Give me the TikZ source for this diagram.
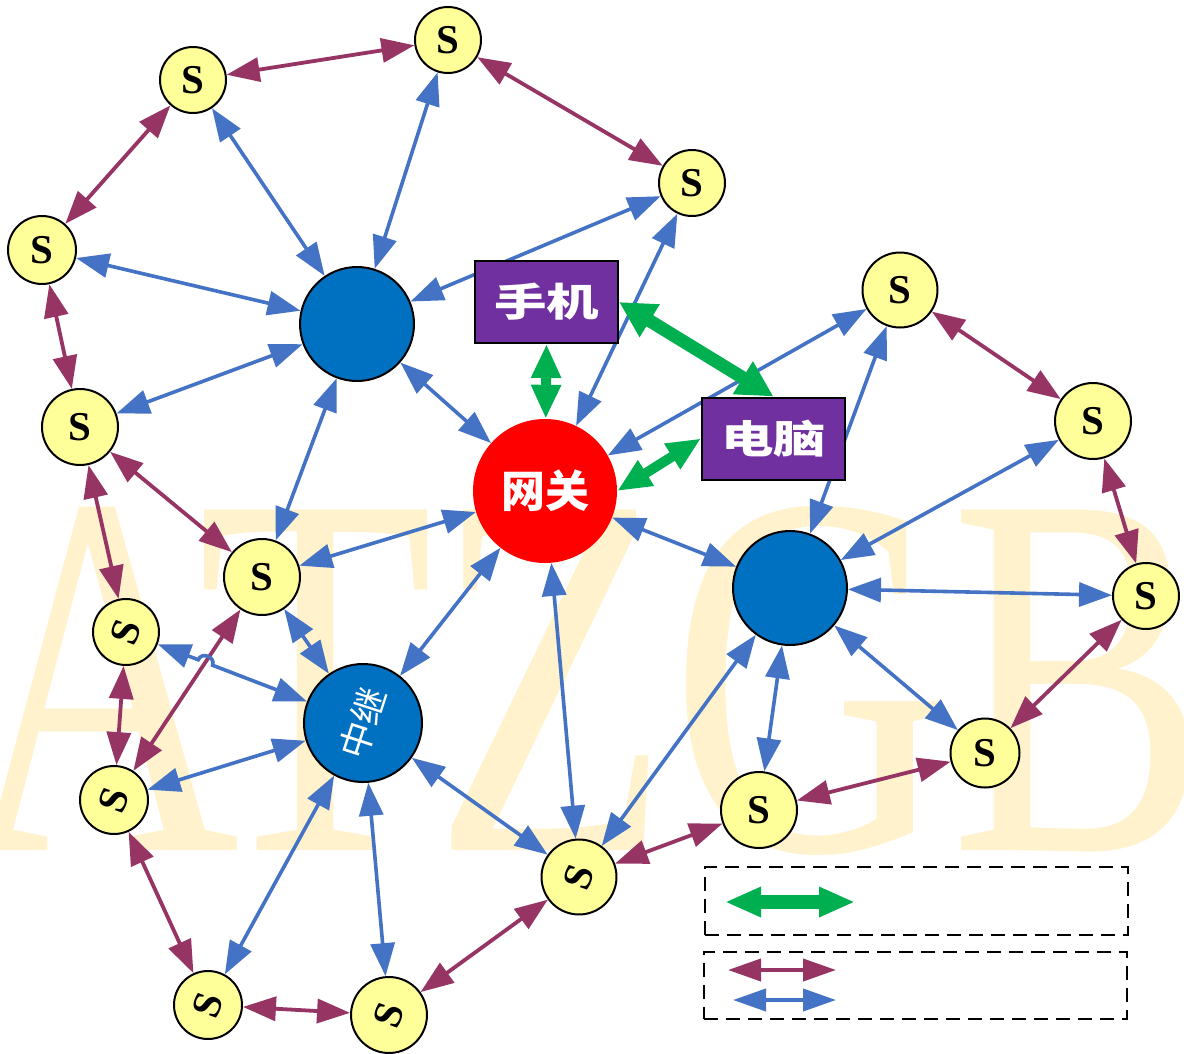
\documentclass[tikz,border=0pt]{standalone}
\usepackage{fontspec}
\usepackage{graphicx}
\setmainfont{Liberation Serif}
\newfontfamily\cjk{Noto Sans CJK SC}
\usetikzlibrary{arrows.meta,calc}
\definecolor{pur}{RGB}{150,52,100}
\definecolor{blu}{HTML}{4472C4}
\definecolor{grn}{HTML}{00B050}
\definecolor{sy}{HTML}{FFFF99}
\definecolor{nb}{HTML}{0070C0}
\definecolor{boxp}{HTML}{7030A0}
\definecolor{wmc}{HTML}{FFF2CC}
\pgfdeclarelayer{wm}
\pgfdeclarelayer{edges}
\pgfsetlayers{wm,edges,main}
\begin{document}
\begin{tikzpicture}[x=1pt,y=-1pt,
  snode/.style={circle,draw=black,line width=2pt,fill=sy,inner sep=0pt,minimum size=#1,font=\fontsize{41}{41}\selectfont\bfseries},
  snode/.default=66pt,
  bignode/.style={circle,draw=black,line width=2pt,fill=nb,inner sep=0pt,minimum size=#1},
  bignode/.default=114pt,
  dev/.style={draw=black,line width=2pt,fill=boxp,text=white,minimum width=143pt,minimum height=82pt,inner sep=0pt,font=\cjk\bfseries\fontsize{50}{50}\selectfont},
  pl/.style={draw=pur,line width=3.8pt,arrows={Triangle[length=33pt,width=24pt]-Triangle[length=33pt,width=24pt]}},
  bl/.style={draw=blu,line width=3.6pt,arrows={Triangle[length=33pt,width=24pt]-Triangle[length=33pt,width=24pt]}},
  gl/.style={draw=grn,line width=10pt,arrows={Triangle[length=34pt,width=28pt]-Triangle[length=34pt,width=28pt]}},
  gll/.style={draw=grn,line width=13pt,arrows={Triangle[length=36pt,width=36pt]-Triangle[length=36pt,width=36pt]}},
  legbox/.style={draw=black,line width=2pt,dash pattern=on 14pt off 8pt}
]
\useasboundingbox (0,0) rectangle (1184,1053);

% watermark
\begin{pgfonlayer}{wm}
\begin{scope}
\clip (0,0) rectangle (1184,1053);
\node[anchor=base west,inner sep=0pt,xscale=0.745,text=wmc,font=\fontsize{520}{520}\selectfont] (wmark) at (-40,850) {ATZGB};
\end{scope}
\end{pgfonlayer}

% S nodes
\node[snode] (S1) at (448,40) {S};
\node[snode] (S2) at (193,80) {S};
\node[snode] (S3) at (692,183) {S};
\node[snode=68pt] (S4) at (42,250) {S};
\node[snode=75pt] (S5) at (900,290) {S};
\node[snode=76pt] (S6) at (80,427) {S};
\node[snode=76pt] (S7) at (1093,421) {S};
\node[snode=76pt] (S8) at (262,577) {S};
\node[snode,rotate=70] (S9) at (126,632) {S};
\node[snode] (S10) at (1146,596) {S};
\node[snode=68pt,rotate=70] (S11) at (114,800) {S};
\node[snode=69pt] (S12) at (985,753) {S};
\node[snode=76pt] (S13) at (759,810) {S};
\node[snode=75pt,rotate=70] (S14) at (579,877) {S};
\node[snode=68pt,rotate=70] (S15) at (208,1005) {S};
\node[snode=76pt,rotate=70] (S16) at (389,1015) {S};

% hubs
\node[bignode] (B1) at (357,324) {};
\node[bignode] (B2) at (790,588) {};
\node[bignode=118pt,rotate=72,text=white,font=\cjk\fontsize{36}{36}\selectfont] (R) at (363,723) {中继};
\node[circle,fill=red,minimum size=144pt,inner sep=0pt,text=white,font=\cjk\bfseries\fontsize{44}{44}\selectfont] (G) at (545,491) {网关};

% devices
\node[dev] (P) at (546.5,302) {\scalebox{1.05}[0.78]{手机}};
\node[dev] (C) at (773.5,438.5) {\scalebox{1.05}[0.78]{电脑}};

% legend
\node[legbox,minimum width=423pt,minimum height=68pt,inner sep=0pt] (L1) at (916.5,901) {};
\node[legbox,minimum width=423pt,minimum height=67pt,inner sep=0pt] (L2) at (915.5,985.5) {};
\coordinate (g1) at (725,902);
\coordinate (g2) at (855,902);
\coordinate (p1) at (728,970);
\coordinate (p2) at (836,970);
\coordinate (b1) at (733,1000);
\coordinate (b2) at (836,1000);

\begin{pgfonlayer}{edges}
% purple links between sensors
\draw[pl] (S2) -- (S1);
\draw[pl] (S1) -- (S3);
\draw[pl] (S2) -- (S4);
\draw[pl] (S4) -- (S6);
\draw[pl] (S6) -- (S9);
\draw[pl] (S6) -- (S8);
\draw[pl] (S9) -- (S11);
\draw[pl] (S8) -- (S11);
\draw[pl] (S11) -- (S15);
\draw[pl] (S15) -- (S16);
\draw[pl] (S16) -- (S14);
\draw[pl] (S14) -- (S13);
\draw[pl] (S13) -- (S12);
\draw[pl] (S12) -- (S10);
\draw[pl] (S10) -- (S7);
\draw[pl] (S7) -- (S5);
% blue links
\draw[bl] (B1) -- (S2);
\draw[bl] (B1) -- (S1);
\draw[bl] (B1) -- (S4);
\draw[bl] (B1) -- (S6);
\draw[bl] (B1) -- (S3);
\draw[bl] (B1) -- (S8);
\draw[bl] (B1) -- (G);
\draw[bl] (S3) -- (G);
\draw[bl] (S5) -- (G);
\draw[bl] (G) -- (S8);
\draw[bl] (G) -- (R);
\draw[bl] (G) -- (B2);
\draw[bl] (G) -- (S14);
\draw[bl] (B2) -- (S5);
\draw[bl] (B2) -- (S7);
\draw[bl] (B2) -- (S10);
\draw[bl] (B2) -- (S12);
\draw[bl] (B2) -- (S13);
\draw[bl] (B2) -- (S14);
\draw[bl] (R) -- (S8);
\draw[bl] (S9) -- ($(S9)!0.305!(R)$) to[bend left=90,looseness=1.5] ($(S9)!0.365!(R)$) -- (R);
\draw[bl] (R) -- (S11);
\draw[bl] (R) -- (S15);
\draw[bl] (R) -- (S16);
\draw[bl] (R) -- (S14);
% green links
\draw[gl] (P.south) -- (G);
\draw[gll] (P.east) -- (C.north);
\draw[gl] (C.west) -- (G.east);
% legend arrows
\draw[draw=grn,line width=14pt,arrows={Triangle[length=36pt,width=28pt]-Triangle[length=36pt,width=28pt]}] (g1) -- (g2);
\draw[draw=pur,line width=4pt,arrows={Triangle[length=33pt,width=22pt]-Triangle[length=33pt,width=22pt]}] (p1) -- (p2);
\draw[draw=blu,line width=4pt,arrows={Triangle[length=33pt,width=22pt]-Triangle[length=33pt,width=22pt]}] (b1) -- (b2);
\end{pgfonlayer}
\end{tikzpicture}
\end{document}
